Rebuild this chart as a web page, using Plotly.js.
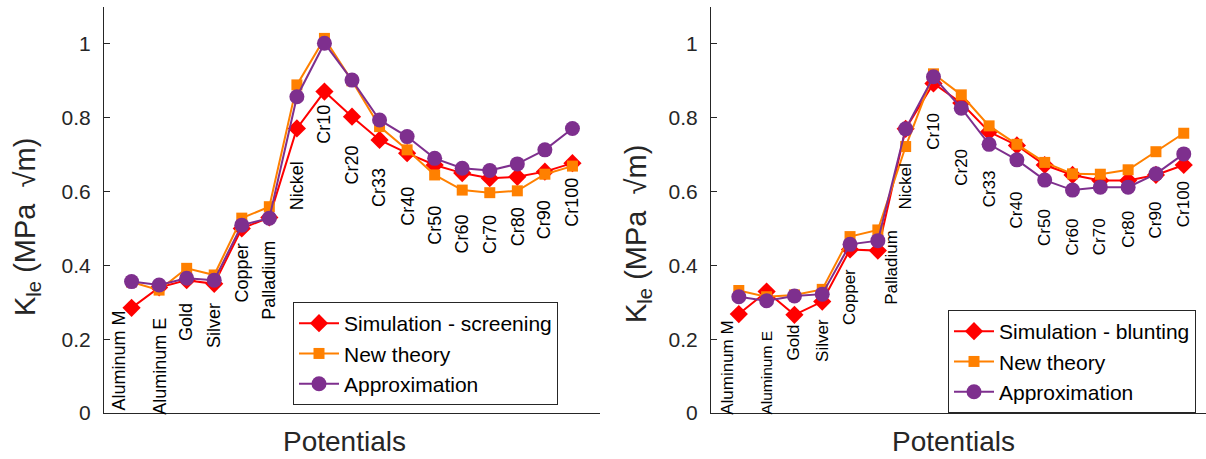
<!DOCTYPE html>
<html>
<head>
<meta charset="utf-8">
<script src="https://cdn.plot.ly/plotly-3.0.1.min.js"></script>
<style>
  html, body { margin: 0; padding: 0; background: #fff; }
  #chart { width: 1206px; height: 459px; }
</style>
</head>
<body>
<div id="chart"></div>
<script>
// ---------- data ----------
const categories = ['Aluminum M','Aluminum E','Gold','Silver','Copper','Palladium','Nickel',
  'Cr10','Cr20','Cr33','Cr40','Cr50','Cr60','Cr70','Cr80','Cr90','Cr100'];

// left panel (screening)
const simScreening = [0.285, 0.34, 0.36, 0.35, 0.50, 0.53, 0.771, 0.871, 0.803, 0.74, 0.704, 0.672, 0.65, 0.636, 0.64, 0.654, 0.677];
const newTheoryLeft = [0.355, 0.333, 0.392, 0.374, 0.528, 0.559, 0.889, 1.015, 0.90, 0.776, 0.713, 0.645, 0.604, 0.597, 0.602, 0.647, 0.669];
const approxLeft = [0.356, 0.347, 0.365, 0.36, 0.509, 0.528, 0.857, 1.002, 0.902, 0.794, 0.749, 0.69, 0.663, 0.657, 0.675, 0.713, 0.771];

// right panel (blunting)
const simBlunting = [0.268, 0.329, 0.266, 0.302, 0.443, 0.44, 0.77, 0.893, 0.84, 0.762, 0.725, 0.672, 0.645, 0.63, 0.63, 0.645, 0.672];
const newTheoryRight = [0.332, 0.315, 0.32, 0.335, 0.478, 0.496, 0.722, 0.919, 0.862, 0.778, 0.728, 0.679, 0.648, 0.647, 0.659, 0.708, 0.758];
const approxRight = [0.315, 0.304, 0.317, 0.322, 0.457, 0.467, 0.77, 0.911, 0.826, 0.728, 0.686, 0.631, 0.604, 0.612, 0.612, 0.648, 0.702];

// data-unit anchor (top end) of the rotated category labels
const labelTopLeft = [0.279, 0.26, 0.30, 0.30, 0.463, 0.469, 0.686, 0.838, 0.726, 0.667, 0.615, 0.565, 0.54, 0.54, 0.56, 0.58, 0.64];
const labelTopRight = [0.252, 0.225, 0.244, 0.257, 0.393, 0.50, 0.678, 0.816, 0.718, 0.659, 0.604, 0.556, 0.53, 0.53, 0.55, 0.577, 0.63];

const yTickVals = [0, 0.2, 0.4, 0.6, 0.8, 1];
const yTickText = ['0', '0.2', '0.4', '0.6', '0.8', '1'];

// ---------- styling ----------
const RED = '#FF0000', ORANGE = '#FF8000', PURPLE = '#7E2F8E';
const FONT = 'Liberation Sans, Arial, Helvetica, sans-serif';
const AXC = '#262626';

function series(name, y, color, symbol, size, xa, ya, legend) {
  return {
    type: 'scatter', mode: 'lines+markers', name: name,
    x: categories, y: y, xaxis: xa, yaxis: ya, legend: legend,
    line: { color: color, width: 2 },
    marker: { color: color, symbol: symbol, size: size }
  };
}

const traces = [
  series('Simulation - screening', simScreening, RED, 'diamond', 14, 'x', 'y', 'legend'),
  series('New theory', newTheoryLeft, ORANGE, 'square', 11, 'x', 'y', 'legend'),
  series('Approximation', approxLeft, PURPLE, 'circle', 15, 'x', 'y', 'legend'),
  series('Simulation - blunting', simBlunting, RED, 'diamond', 14, 'x2', 'y2', 'legend2'),
  series('New theory', newTheoryRight, ORANGE, 'square', 11, 'x2', 'y2', 'legend2'),
  series('Approximation', approxRight, PURPLE, 'circle', 15, 'x2', 'y2', 'legend2')
];

function xAxis(domain, range) {
  return {
    domain: domain, type: 'category', range: range,
    showline: true, linecolor: AXC, linewidth: 1,
    showticklabels: false, ticks: '', showgrid: false, zeroline: false
  };
}
function yAxis(anchor) {
  return {
    domain: [0.1002, 0.9847], range: [0, 1.1], anchor: anchor,
    showline: true, linecolor: AXC, linewidth: 1,
    ticks: 'inside', ticklen: 6, tickcolor: AXC,
    tickvals: yTickVals, ticktext: yTickText,
    tickfont: { family: FONT, size: 21, color: AXC },
    ticklabelstandoff: 8,
    showgrid: false, zeroline: false
  };
}

const annotations = [];
function addLabels(xref, yref, tops, fontSize, shifts, sizeOverride) {
  categories.forEach((c, i) => {
    annotations.push({
      x: c, y: tops[i], xref: xref, yref: yref,
      text: c, showarrow: false, textangle: -90,
      xanchor: 'center', yanchor: 'top',
      xshift: shifts[i] || 0,
      borderpad: 0,
      font: { family: FONT, size: (sizeOverride[i] || fontSize), color: '#000' }
    });
  });
}
addLabels('x', 'y', labelTopLeft, 18, { 0: -13 }, {});
addLabels('x2', 'y2', labelTopRight, 17, { 0: -12, 5: 14 }, { 1: 15.5 });

const yTitle = 'K<sub>le</sub> (MPa &nbsp;√m)';
const titleFont = { family: FONT, size: 29, color: AXC };
annotations.push({
  xref: 'paper', yref: 'paper', x: 27 / 1206, y: (459 - 227) / 459,
  text: yTitle, showarrow: false, textangle: -90,
  xanchor: 'center', yanchor: 'middle', font: titleFont
});
annotations.push({
  xref: 'paper', yref: 'paper', x: 638 / 1206, y: (459 - 234) / 459,
  text: yTitle, showarrow: false, textangle: -90,
  xanchor: 'center', yanchor: 'middle', font: titleFont
});
annotations.push({
  xref: 'paper', yref: 'paper', x: 345 / 1206, y: (459 - 441) / 459,
  text: 'Potentials', showarrow: false,
  xanchor: 'center', yanchor: 'middle', font: { family: FONT, size: 28, color: AXC }
});
annotations.push({
  xref: 'paper', yref: 'paper', x: 954 / 1206, y: (459 - 441) / 459,
  text: 'Potentials', showarrow: false,
  xanchor: 'center', yanchor: 'middle', font: { family: FONT, size: 28, color: AXC }
});

function legendCfg(xr, yt) {
  return {
    x: xr, y: yt, xanchor: 'right', yanchor: 'top',
    xref: 'paper', yref: 'paper',
    bgcolor: '#ffffff', bordercolor: AXC, borderwidth: 1,
    font: { family: FONT, size: 21, color: '#000' },
    tracegroupgap: 0, itemwidth: 40
  };
}

const layout = {
  width: 1206, height: 459,
  margin: { l: 0, r: 0, t: 0, b: 0 },
  paper_bgcolor: '#fff', plot_bgcolor: '#fff',
  showlegend: true,
  xaxis: xAxis([104 / 1206, 600 / 1206], [-1, 17]),
  yaxis: yAxis('x'),
  xaxis2: xAxis([711 / 1206, 1], [-1, 16.8]),
  yaxis2: yAxis('x2'),
  legend: legendCfg(558 / 1206, (459 - 302) / 459),
  legend2: legendCfg(1196 / 1206, (459 - 310) / 459),
  annotations: annotations
};

Plotly.newPlot('chart', traces, layout, { staticPlot: true, displayModeBar: false });
</script>
</body>
</html>
